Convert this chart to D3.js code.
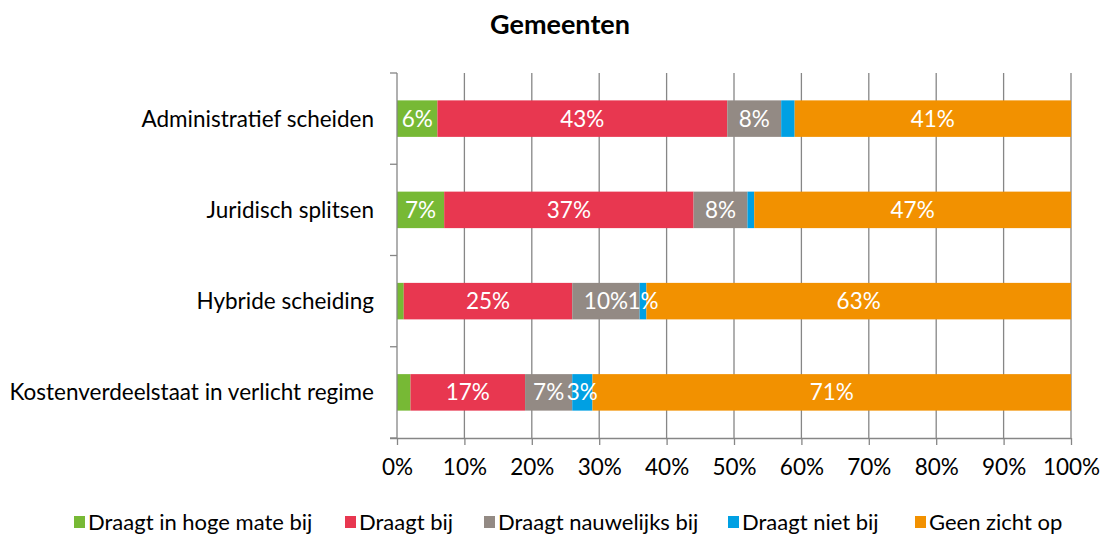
<!DOCTYPE html>
<html>
<head>
<meta charset="utf-8">
<script src="https://cdn.jsdelivr.net/npm/d3@7"></script>
<style>
  body { margin: 0; background: #fff; }
  svg { font-family: Lato, "Open Sans", sans-serif; }
</style>
</head>
<body>
<svg id="chart" width="1100" height="534"></svg>
<script>
// categories (top to bottom) and series
const categories = ["Administratief scheiden", "Juridisch splitsen", "Hybride scheiding", "Kostenverdeelstaat in verlicht regime"];
const seriesNames = ["Draagt in hoge mate bij", "Draagt bij", "Draagt nauwelijks bij", "Draagt niet bij", "Geen zicht op"];
const colors = ["#77b935", "#e83750", "#938a84", "#00a0e3", "#f29100"];
const hogeMate = [6, 7, 1, 2];
const draagtBij = [43, 37, 25, 17];
const nauwelijks = [8, 8, 10, 7];
const nietBij = [2, 1, 1, 3];
const geenZicht = [41, 47, 63, 71];
// which data labels are shown (per series, per category)
const showLabel = [
  [true, true, false, false],
  [true, true, true, true],
  [true, true, true, true],
  [false, false, true, true],
  [true, true, true, true]
];
const xTicks = [0, 10, 20, 30, 40, 50, 60, 70, 80, 90, 100];

const allSeries = [hogeMate, draagtBij, nauwelijks, nietBij, geenZicht];

const svg = d3.select("#chart");
const plotLeft = 397, plotRight = 1071, plotTop = 73, plotBottom = 438;
const fs = 22.5;

const x = d3.scaleLinear().domain([0, 100]).range([plotLeft, plotRight]);
const y = d3.scaleBand().domain(categories).range([plotTop, plotBottom]).paddingInner(0.6).paddingOuter(0.3);
const band = d3.scaleBand().domain(categories).range([plotTop, plotBottom]);

// title
svg.append("text")
  .attr("x", 560).attr("y", 34)
  .attr("text-anchor", "middle")
  .attr("font-size", 27).attr("font-weight", "bold")
  .attr("fill", "#000")
  .text("Gemeenten");

// vertical gridlines
svg.append("g")
  .selectAll("line")
  .data(xTicks.slice(1))
  .join("line")
  .attr("x1", d => x(d)).attr("x2", d => x(d))
  .attr("y1", plotTop).attr("y2", plotBottom)
  .attr("stroke", "#868686").attr("stroke-width", 1.3);

// stacked data
const stackData = categories.map((c, i) => {
  const o = { cat: c };
  seriesNames.forEach((s, j) => { o[s] = allSeries[j][i]; });
  return o;
});
const stacked = d3.stack().keys(seriesNames)(stackData);

const groups = svg.append("g")
  .selectAll("g")
  .data(stacked)
  .join("g")
  .attr("fill", (d, i) => colors[i]);

groups.selectAll("rect")
  .data(d => d)
  .join("rect")
  .attr("x", d => x(d[0]))
  .attr("width", d => x(d[1]) - x(d[0]))
  .attr("y", d => y(d.data.cat))
  .attr("height", y.bandwidth());

// data labels
stacked.forEach((s, j) => {
  svg.append("g")
    .selectAll("text")
    .data(s.filter((d, i) => showLabel[j][i]))
    .join("text")
    .attr("x", d => x((d[0] + d[1]) / 2))
    .attr("y", d => y(d.data.cat) + y.bandwidth() / 2)
    .attr("dy", "0.35em")
    .attr("text-anchor", "middle")
    .attr("font-size", fs)
    .attr("fill", "#fff")
    .text(d => (d[1] - d[0]) + "%");
});

// x axis
const xAxis = svg.append("g")
  .attr("transform", `translate(0,${plotBottom})`)
  .call(d3.axisBottom(x).tickValues(xTicks).tickFormat(d => d + "%").tickSize(7).tickPadding(14));
xAxis.select(".domain").attr("stroke", "#868686").attr("stroke-width", 1.3)
  .attr("d", `M${plotLeft - 7},0.5H${plotRight}`);
xAxis.selectAll(".tick line").attr("stroke", "#868686").attr("stroke-width", 1.3);
xAxis.selectAll(".tick text").attr("font-size", fs).attr("fill", "#000").attr("font-family", "Lato, sans-serif");

// y axis line with boundary ticks
svg.append("line")
  .attr("x1", plotLeft).attr("x2", plotLeft).attr("y1", plotTop).attr("y2", plotBottom)
  .attr("stroke", "#868686").attr("stroke-width", 1.3);
svg.append("g")
  .selectAll("line")
  .data(categories.map(c => band(c)).concat([plotBottom]))
  .join("line")
  .attr("x1", plotLeft - 7).attr("x2", plotLeft)
  .attr("y1", d => d).attr("y2", d => d)
  .attr("stroke", "#868686").attr("stroke-width", 1.3);

// category labels
svg.append("g")
  .selectAll("text")
  .data(categories)
  .join("text")
  .attr("x", plotLeft - 23)
  .attr("y", d => y(d) + y.bandwidth() / 2)
  .attr("dy", "0.35em")
  .attr("text-anchor", "end")
  .attr("font-size", fs)
  .attr("fill", "#000")
  .text(d => d);

// legend
const legendX = [74, 345, 484, 728, 915];
const legend = svg.append("g")
  .selectAll("g")
  .data(seriesNames)
  .join("g")
  .attr("transform", (d, i) => `translate(${legendX[i]},522)`);
legend.append("rect")
  .attr("x", 0).attr("y", -6).attr("width", 11).attr("height", 12)
  .attr("fill", (d, i) => colors[i]);
legend.append("text")
  .attr("x", 14).attr("dy", "0.35em")
  .attr("font-size", 22).attr("fill", "#000")
  .text(d => d);
</script>
</body>
</html>
